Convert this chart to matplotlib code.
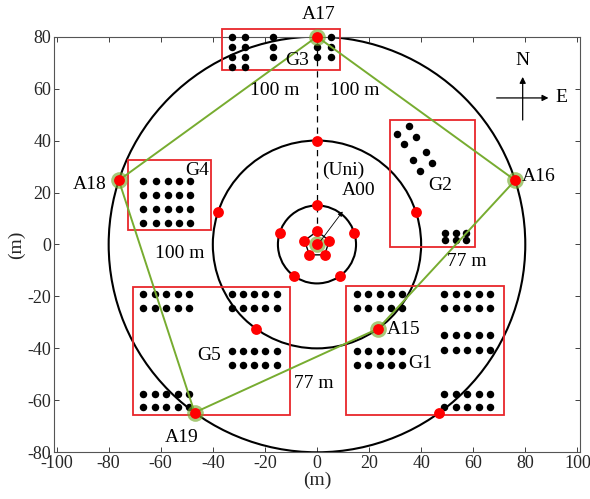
import matplotlib
matplotlib.use("Agg")
import matplotlib.pyplot as plt
from matplotlib.patches import Circle, Rectangle
import numpy as np

plt.rcParams['font.family'] = ['Liberation Serif', 'DejaVu Serif']
plt.rcParams['axes.unicode_minus'] = False

# ---- data -------------------------------------------------------------
ring_radii = [15, 40, 80]

# candidate anchor positions (m)
anchor_x = [0, 0, -4.8, -2.9, 2.9, 4.8,
            0, -14.3, -8.8, 8.8, 14.3,
            0, -38.0, -23.5, 23.5, 38.0,
            0, -76.1, -47.0, 47.0, 76.1]
anchor_y = [0, 5, 1.5, -4.0, -4.0, 1.5,
            15, 4.6, -12.1, -12.1, 4.6,
            40, 12.4, -32.4, -32.4, 12.4,
            80, 24.7, -64.7, -64.7, 24.7]

# inner pentagon (r = 5)
penta_x = [0, -4.8, -2.9, 2.9, 4.8]
penta_y = [5, 1.5, -4.0, -4.0, 1.5]

# selected anchors and route
sel_names = ['A00', 'A15', 'A16', 'A17', 'A18', 'A19']
sel_x = [0, 23.5, 76.1, 0, -76.1, -47.0]
sel_y = [0, -32.4, 24.7, 80, 24.7, -64.7]
route_order = ['A17', 'A16', 'A15', 'A19', 'A18', 'A17']

# tag groups: bounding boxes (x0, x1, y0, y1)
group_names = ['G1', 'G2', 'G3', 'G4', 'G5']
group_boxes = [(11.1, 71.8, -65.8, -16.0),
               (28.2, 60.6, -1.0, 47.9),
               (-36.3, 9.0, 67.2, 83.0),
               (-72.5, -40.8, 5.7, 32.5),
               (-70.8, -10.2, -65.8, -16.4)]

# tag grids: (columns, rows)
g1_left_cols = [15.2, 19.6, 24.1, 28.6, 32.8]
g1_right_cols = [48.8, 53.3, 57.8, 62.2, 66.6]
g5_left_cols = [-66.8, -62.3, -57.8, -53.3, -49.1]
g5_right_cols = [-32.8, -28.6, -24.3, -19.8, -15.3]
g4_cols = [-66.8, -62.0, -57.4, -53.1, -48.8]
g2_cols = [49.1, 53.2, 57.1]
tag_grids = [
    (g1_left_cols, [-19.2, -24.3]),
    (g1_left_cols, [-41.1, -46.3]),
    (g1_right_cols, [-19.2, -24.3]),
    (g1_right_cols, [-35.0, -40.8]),
    (g1_right_cols, [-57.5, -62.6]),
    (g5_left_cols, [-19.2, -24.3]),
    (g5_right_cols, [-19.2, -24.3]),
    (g5_right_cols, [-41.1, -46.3]),
    (g5_left_cols, [-57.5, -62.6]),
    (g4_cols, [24.5, 19.2, 13.8, 8.4]),
    (g2_cols, [4.6, 1.6]),
]
# scattered tags
tag_x = [35.4, 30.7, 38.2, 33.3, 41.8, 36.9, 44.3, 39.7,
         -32.8, -32.8, -32.8, -32.8, -27.7, -27.7, -27.7, -27.7,
         -16.9, -16.9, -16.9, 0, 0, 5.3, 5.3, 5.3]
tag_y = [45.6, 42.5, 41.4, 38.5, 35.5, 32.5, 31.4, 28.3,
         80, 76, 72, 68.5, 80, 76, 72, 68.5,
         80, 76, 72, 76, 72, 80, 76, 72]

# text annotations
label_text = ['A17', 'A16', 'A18', 'A19', 'A15', '(Uni)',
              'G1', 'G2', 'G3', 'G4', 'G5',
              '100 m', '100 m', '100 m', '77 m', '77 m']
label_x = [0.5, 85.2, -87.3, -52.0, 33.4, 9.9,
           39.5, 47.5, -7.6, -45.9, -41.4,
           -16.2, 14.5, -52.7, 57.6, -1.4]
label_y = [88.5, 26.0, 23.0, -74.2, -32.8, 28.5,
           -45.7, 22.8, 71.0, 28.6, -42.7,
           59.4, 59.4, -3.5, -6.7, -53.5]

xticks = list(range(-100, 101, 20))
yticks = list(range(-80, 81, 20))

# ---- drawing ----------------------------------------------------------
FS = 14
TICK_FS = 13
GREEN = '#77AC30'

fig = plt.figure(figsize=(5.90, 4.99), dpi=100)
ax = fig.add_axes([0.0915, 0.0936, 0.8915, 0.833])
ax.set_xlim(-101, 101)
ax.set_ylim(-80, 80)

for r in ring_radii:
    ax.add_patch(Circle((0, 0), r, fill=False, ec='black', lw=1.5, zorder=2))

# inner pentagon
ax.plot(penta_x + penta_x[:1], penta_y + penta_y[:1], color='black', lw=1.0, zorder=2)

# north axis dashed line
ax.plot([0, 0], [80, 0], color='black', lw=0.9, ls=(0, (5, 4)), zorder=2)

# group boxes
for (x0, x1, y0, y1) in group_boxes:
    ax.add_patch(Rectangle((x0, y0), x1 - x0, y1 - y0, fill=False,
                           ec='#e8262b', lw=1.3, zorder=3, clip_on=False))

# tags
for cols, rows in tag_grids:
    gx, gy = np.meshgrid(cols, rows)
    ax.plot(gx.ravel(), gy.ravel(), 'o', color='black', ms=5.4, mec='none',
            zorder=4, clip_on=False)
ax.plot(tag_x, tag_y, 'o', color='black', ms=5.4, mec='none', zorder=4, clip_on=False)

# route through selected anchors
pos = {n: (x, y) for n, x, y in zip(sel_names, sel_x, sel_y)}
rx = [pos[n][0] for n in route_order]
ry = [pos[n][1] for n in route_order]
ax.plot(rx, ry, color=GREEN, lw=1.4, zorder=5, clip_on=False)

# halos for selected anchors
ax.plot(sel_x, sel_y, 'o', color=GREEN, alpha=0.65, ms=12, mec='none',
        zorder=6, clip_on=False)
# anchors
ax.plot(anchor_x, anchor_y, 'o', color='red', ms=7.8, mec='none',
        zorder=7, clip_on=False)

# A00 pointer
ax.annotate('A00', xy=(1.5, 1.5), xytext=(16.0, 20.9), fontsize=FS,
            ha='center', va='center', zorder=8,
            arrowprops=dict(arrowstyle='<|-', color='black', lw=0.6,
                            mutation_scale=7, shrinkA=9, shrinkB=0))

for t, x, y in zip(label_text, label_x, label_y):
    ax.text(x, y, t, fontsize=FS, ha='center', va='center', zorder=8,
            clip_on=False)

# compass
ax.annotate('', xy=(79, 64.5), xytext=(79, 47.9),
            arrowprops=dict(arrowstyle='-|>', color='black', lw=0.9,
                            mutation_scale=9, shrinkA=0, shrinkB=0))
ax.annotate('', xy=(88.9, 56.4), xytext=(69, 56.4),
            arrowprops=dict(arrowstyle='-|>', color='black', lw=0.9,
                            mutation_scale=9, shrinkA=0, shrinkB=0))
ax.text(79, 71.0, 'N', fontsize=FS, ha='center', va='center')
ax.text(94.0, 56.4, 'E', fontsize=FS, ha='center', va='center')

ax.set_xticks(xticks)
ax.set_yticks(yticks)
ax.tick_params(direction='in', length=3.5, width=0.7, top=True, right=True,
               labelsize=TICK_FS, colors='#404040', labelcolor='#262626', pad=2)
for s in ax.spines.values():
    s.set_color('#555555')
    s.set_linewidth(0.8)
ax.set_xlabel('(m)', fontsize=FS, color='#262626', labelpad=0)
ax.set_ylabel('(m)', fontsize=FS, color='#262626', labelpad=2)

fig.savefig('out.png', dpi=100)
